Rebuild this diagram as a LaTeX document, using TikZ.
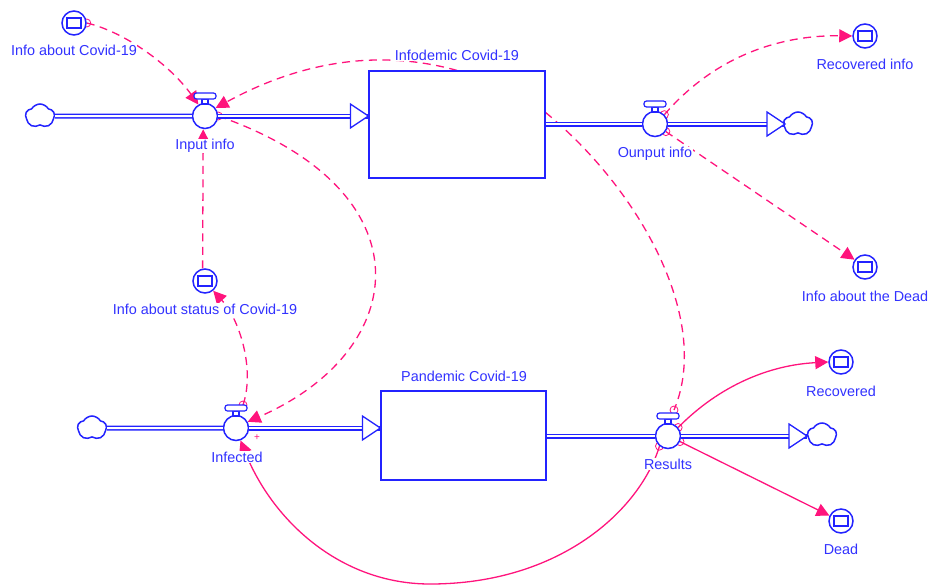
\documentclass[tikz,border=0pt]{standalone}
\usepackage{fontspec}
\setmainfont{Liberation Sans}
\usetikzlibrary{arrows.meta,shapes.symbols,backgrounds}
\definecolor{vblue}{RGB}{35,35,255}
\definecolor{vtext}{RGB}{50,50,255}
\definecolor{vpink}{RGB}{255,20,125}
\tikzset{
  bl/.style={draw=vblue,line width=1.5pt},
  stockbox/.style={draw=vblue,line width=1.2pt,rectangle,fill=white,inner sep=0pt},
  conv/.style={bl,circle,fill=white,minimum size=24pt,inner sep=0pt},
  valve/.style={bl,circle,fill=white,minimum size=25pt,inner sep=0pt},
  sky/.style={bl,cloud,cloud puffs=5,cloud puff arc=120,aspect=1.2,fill=white,minimum width=29pt,minimum height=24pt,inner sep=0pt},
  lab/.style={text=vtext,font=\fontsize{14.4}{17}\selectfont,fill=white,inner sep=0.5pt},
  flow/.style={draw=vblue,line width=1.5pt,double=white,double distance=2pt},
  headst/.style={draw=vblue,line width=1.3pt,fill=white,line join=miter},
  plainlink/.style={draw=vpink,line width=1.3pt},
  solidlink/.style={plainlink,-{Triangle[length=13pt,width=13pt]}},
  dashlink/.style={solidlink,dash pattern=on 8pt off 5.5pt},
  dashplain/.style={plainlink,dash pattern=on 8pt off 5.5pt},
  startring/.style={draw=vpink,line width=0.8pt,fill=white},
}
\begin{document}
\begin{tikzpicture}[x=1pt,y=-1pt]
\useasboundingbox (0,0) rectangle (928,584);
% stocks
\node[stockbox,minimum width=176pt,minimum height=107pt] (s1) at (457,124.5) {};
\node[stockbox,minimum width=165pt,minimum height=89pt] (s2) at (463.5,435.5) {};
% valves
\node[valve] (v1) at (205,116) {};
\node[valve] (v2) at (655,124) {};
\node[valve] (v3) at (236,428) {};
\node[valve] (v4) at (668,436) {};
% converters
\node[conv] (c1) at (74,23) {};
\node[conv] (c2) at (865,36) {};
\node[conv] (c3) at (865,267) {};
\node[conv] (c4) at (205,281) {};
\node[conv] (c5) at (841,362) {};
\node[conv] (c6) at (841,521) {};
% clouds
\node[sky] (k1) at (40,116) {};
\node[sky] (k2) at (798,124) {};
\node[sky] (k3) at (92,428) {};
\node[sky] (k4) at (822,435) {};
% valve handles and converter inner boxes
\foreach \v in {v1,v2,v3,v4}{
  \draw[bl,line width=1.2pt,fill=white] ([shift={(-3,-12)}]\v.center) rectangle ([shift={(3,-17)}]\v.center);
  \draw[bl,line width=1.2pt,fill=white,rounded corners=2.5pt] ([shift={(-11,-17)}]\v.center) rectangle ([shift={(11,-23)}]\v.center);
}
\foreach \c in {c1,c2,c3,c4,c5,c6}{
  \draw[bl,line width=1.1pt] ([shift={(-7,-5)}]\c.center) rectangle ([shift={(7,5)}]\c.center);
}
% flows
\coordinate (h1) at (s1.west |- v1);
\coordinate (o1) at (s1.east |- v2);
\coordinate (h2) at (785,124);
\coordinate (h3) at (s2.west |- v3);
\coordinate (o2) at (s2.east |- v4);
\coordinate (h4) at (807,436);
\draw[flow] (k1) -- (v1);
\draw[flow] (v1) -- (h1);
\draw[flow] (o1) -- (v2);
\draw[flow] (v2) -- (h2);
\draw[flow] (k3) -- (v3);
\draw[flow] (v3) -- (h3);
\draw[flow] (o2) -- (v4);
\draw[flow] (v4) -- (h4);
\foreach \h in {h1,h2,h3,h4}{
  \draw[headst] (\h) -- ([shift={(-18,-12)}]\h) -- ([shift={(-18,12)}]\h) -- cycle;
}
% connectors
\coordinate (e3) at ([shift={(7,-23)}]v3.center);
\coordinate (f1) at ([yshift=12pt]s1.east);
\coordinate (f2) at ([shift={(6,-26)}]v4.center);
\coordinate (d1) at ([xshift=-2.4pt]c4.north);
\coordinate (d2) at ([xshift=-1.8pt]v1.south);
\coordinate (b) at (430,584);
\begin{pgfonlayer}{background}
\foreach \p in {c1.east,v1.east,v2.45,v2.-35,v4.40,v4.-25,v4.-130,e3,f2}{
  \draw[startring] (\p) circle (4pt);
}
\draw[dashlink] (c1.east) .. controls (125,32) and (170,65) .. (v1.120);
\draw[dashlink] (s1.north) .. controls (365,45) and (285,70) .. (v1.37);
\draw[dashlink] (v1.east) .. controls (430,190) and (412,350) .. (v3.28);
\draw[dashlink] (d1) -- (d2);
\draw[dashlink] (e3) .. controls (255,370) and (240,320) .. (c4.-50);
\draw[dashplain] (f1) .. controls (640,190) and (712,320) .. (f2);
\draw[dashlink] (v2.45) .. controls (720,50) and (790,35) .. (c2.west);
\draw[dashlink] (v2.-35) -- (c3.145);
\draw[solidlink] (v4.40) .. controls (720,385) and (770,365) .. (c5.west);
\draw[solidlink] (v4.-25) -- (c6.155);
\draw[solidlink] (v4.-130) .. controls (640,510) and (560,584) .. (b) .. controls (340,584) and (272,520) .. (v3.-70);
\end{pgfonlayer}
% labels
\node[lab] (l1) at (74,50) {Info about Covid-19};
\node[lab] (l2) at (865,64) {Recovered info};
\node[lab] (l3) at (865,296) {Info about the Dead};
\node[lab] (l4) at (205,309) {Info about status of Covid-19};
\node[lab] (l5) at (205,146) {Input info};
\node[lab] (l6) at (655,154) {Ounput info};
\node[lab] (l7) at (237,457) {Infected};
\node[lab] (l8) at (668,464) {Results};
\node[lab] (l9) at (841,391) {Recovered};
\node[lab] (l10) at (841,549) {Dead};
\node[lab] (l11) at (457,55) {Infodemic Covid-19};
\node[lab] (l12) at (464,376) {Pandemic Covid-19};
\node[text=vpink,font=\fontsize{10}{10}\selectfont,inner sep=0pt] (plus) at (257,438) {+};
\end{tikzpicture}
\end{document}
